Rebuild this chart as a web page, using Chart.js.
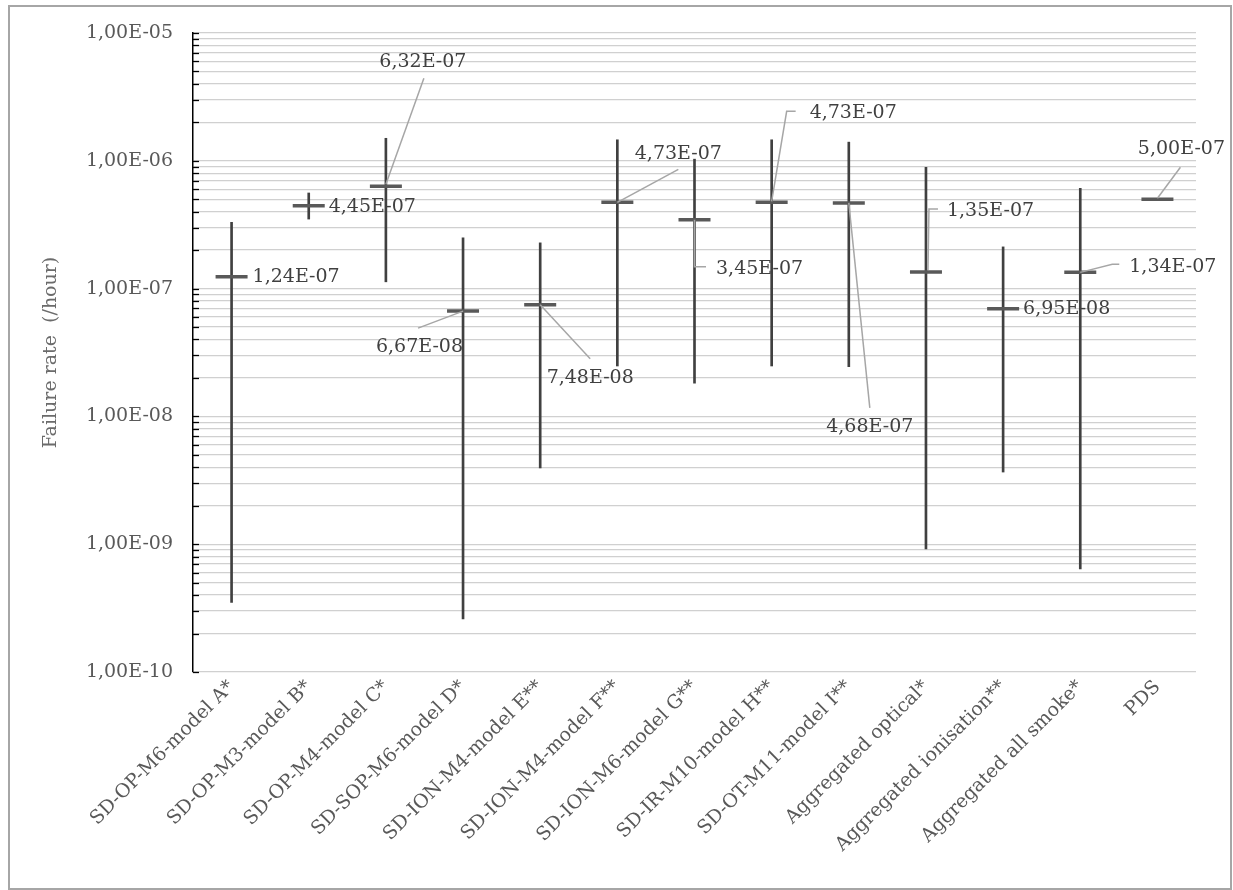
<!DOCTYPE html>
<html>
<head>
<meta charset="utf-8">
<script src="https://cdn.jsdelivr.net/npm/chart.js@4/dist/chart.umd.min.js"></script>
<style>
  html, body { margin: 0; padding: 0; background: #ffffff; }
  #wrap { position: relative; width: 1233px; height: 890px; }
  #wrap canvas { position: absolute; left: 0; top: 0; }
  #frame { position: absolute; left: 8px; top: 5px; width: 1224px; height: 885px;
           border: 2px solid #a6a6a6; box-sizing: border-box; pointer-events: none; }
</style>
</head>
<body>
<div id="wrap">
  <canvas id="chart" width="1233" height="890"></canvas>
  <div id="frame"></div>
</div>
<script>
// Detector types
const categories = [
  'SD-OP-M6-model A*', 'SD-OP-M3-model B*', 'SD-OP-M4-model C*', 'SD-SOP-M6-model D*',
  'SD-ION-M4-model E**', 'SD-ION-M4-model F**', 'SD-ION-M6-model G**', 'SD-IR-M10-model H**',
  'SD-OT-M11-model I**', 'Aggregated optical*', 'Aggregated ionisation**', 'Aggregated all smoke*', 'PDS'
];

// Point estimate of the failure rate (/hour)
const meanRate = [1.24e-7, 4.45e-7, 6.32e-7, 6.67e-8, 7.48e-8, 4.73e-7, 3.45e-7, 4.73e-7, 4.68e-7, 1.35e-7, 6.95e-8, 1.34e-7, 5.00e-7];

// Lower and upper bounds of the interval (no interval for PDS)
const lowerBound = [3.5e-10, 3.5e-7, 1.13e-7, 2.6e-10, 3.95e-9, 2.48e-8, 1.82e-8, 2.48e-8, 2.45e-8, 9.2e-10, 3.67e-9, 6.4e-10, null];
const upperBound = [3.3e-7, 5.6e-7, 1.5e-6, 2.5e-7, 2.28e-7, 1.46e-6, 1.03e-6, 1.46e-6, 1.40e-6, 8.9e-7, 2.12e-7, 6.1e-7, null];

// Labelled decades on the log axis
const decadeTicks = [1e-10, 1e-9, 1e-8, 1e-7, 1e-6, 1e-5];

// Minor steps inside a decade (grid lines and small ticks)
const minorSteps = [1, 2, 3, 4, 5, 6, 7, 8, 9];

// Where each value label sits relative to its marker, with its leader line
const labelPlacement = [
  { align: 'left',   dx: 21,   dy: 0 },
  { align: 'left',   dx: 20,   dy: 1 },
  { align: 'center', dx: 37,   dy: -124, leader: [[0, -2], [38, -108]] },
  { align: 'right',  dx: 0,    dy: 36,   leader: [[0, 0], [-45, 17]] },
  { align: 'center', dx: 50,   dy: 73,   leader: [[0, 0], [50, 54]] },
  { align: 'center', dx: 61,   dy: -48,  leader: [[0, 0], [61, -33]] },
  { align: 'left',   dx: 21.5, dy: 49,   leader: [[0, 0], [0, 47], [11.5, 47]] },
  { align: 'left',   dx: 38,   dy: -89,  leader: [[0, -1], [15, -91], [24, -91]] },
  { align: 'center', dx: 21,   dy: 224,  leader: [[0, 0], [21, 205]] },
  { align: 'left',   dx: 21,   dy: -61,  leader: [[2, -2], [3, -63], [12, -63]] },
  { align: 'left',   dx: 20,   dy: 0 },
  { align: 'left',   dx: 49,   dy: -5,   leader: [[0, 0], [32, -8], [39, -8]] },
  { align: 'center', dx: 24,   dy: -50,  leader: [[0, -1], [23, -32]] }
];

// "1,24E-07" style number format
function sci(v) {
  const [m, e] = v.toExponential(2).split('e');
  const n = parseInt(e, 10);
  const ex = (n < 0 ? '-' : '+') + String(Math.abs(n)).padStart(2, '0');
  return m.replace('.', ',') + 'E' + ex;
}
function isDecade(v) {
  return decadeTicks.some(d => Math.abs(v - d) / d < 1e-6);
}

const gridValues = [];
decadeTicks.forEach((d, i) => {
  if (i === decadeTicks.length - 1) { gridValues.push(d); return; }
  minorSteps.forEach(s => gridValues.push(s * d));
});

const FONT = "'DejaVu Serif', 'Liberation Serif', serif";
const TEXT_SIZE = 19;
Chart.defaults.font.family = FONT;
Chart.defaults.font.size = TEXT_SIZE;
Chart.defaults.color = '#595959';

// Small inward tick marks on the value axis
const innerTicks = {
  id: 'innerTicks',
  afterDatasetsDraw(chart) {
    const y = chart.scales.y;
    const ctx = chart.ctx;
    const left = chart.chartArea.left;
    ctx.save();
    ctx.strokeStyle = '#000000';
    ctx.lineWidth = 1.3;
    y.ticks.forEach(t => {
      const py = Math.round(y.getPixelForValue(t.value)) + 0.5;
      ctx.beginPath();
      ctx.moveTo(left, py);
      ctx.lineTo(left + 6, py);
      ctx.stroke();
    });
    ctx.restore();
  }
};

// Value labels with leader lines
const valueLabels = {
  id: 'valueLabels',
  afterDatasetsDraw(chart) {
    const meta = chart.getDatasetMeta(1);
    const ctx = chart.ctx;
    ctx.save();
    meta.data.forEach((pt, i) => {
      const p = labelPlacement[i];
      const v = chart.data.datasets[1].data[i];
      if (p.leader) {
        ctx.strokeStyle = '#a6a6a6';
        ctx.lineWidth = 1.5;
        ctx.beginPath();
        p.leader.forEach(([lx, ly], k) => {
          if (k === 0) ctx.moveTo(pt.x + lx, pt.y + ly);
          else ctx.lineTo(pt.x + lx, pt.y + ly);
        });
        ctx.stroke();
      }
      ctx.font = TEXT_SIZE + 'px ' + FONT;
      ctx.fillStyle = '#404040';
      ctx.textAlign = p.align;
      ctx.textBaseline = 'middle';
      ctx.fillText(sci(v), pt.x + p.dx, pt.y + p.dy);
    });
    ctx.restore();
  }
};

new Chart(document.getElementById('chart'), {
  type: 'bar',
  data: {
    labels: categories,
    datasets: [
      {
        type: 'bar',
        label: 'Interval',
        data: lowerBound.map((lo, i) => (lo == null ? null : [lo, upperBound[i]])),
        backgroundColor: '#404040',
        borderWidth: 0,
        barThickness: 2,
        order: 2
      },
      {
        type: 'line',
        label: 'Failure rate',
        data: meanRate,
        showLine: false,
        pointStyle: 'line',
        pointRadius: 16,
        pointHoverRadius: 16,
        pointBorderWidth: 3.5,
        pointBorderColor: '#595959',
        pointBackgroundColor: '#595959',
        order: 1
      }
    ]
  },
  options: {
    responsive: false,
    animation: false,
    events: [],
    layout: { padding: { top: 33, right: 37, left: 0, bottom: 0 } },
    plugins: {
      legend: { display: false },
      tooltip: { enabled: false }
    },
    scales: {
      x: {
        offset: true,
        grid: { display: false, drawTicks: false },
        border: { display: false },
        ticks: {
          autoSkip: false,
          minRotation: 45,
          maxRotation: 45,
          padding: 4,
          color: '#595959',
          font: { size: TEXT_SIZE }
        },
        afterFit(scale) { scale.height = 218; }
      },
      y: {
        type: 'logarithmic',
        min: 1e-10,
        max: 1e-5,
        afterBuildTicks(scale) {
          scale.ticks = gridValues.map(v => ({ value: v, major: isDecade(v) }));
        },
        afterFit(scale) { scale.width = 193; },
        grid: { color: '#d0d0d0', lineWidth: 1.3, drawTicks: false },
        border: { display: true, color: '#000000', width: 1.5 },
        ticks: {
          autoSkip: false,
          padding: 20,
          color: '#595959',
          font: { size: TEXT_SIZE },
          callback: v => (isDecade(v) ? sci(v) : '')
        },
        title: {
          display: true,
          text: 'Failure rate  (/hour)',
          color: '#6b6b6b',
          font: { size: 19 },
          padding: { top: 40, bottom: 0 }
        }
      }
    }
  },
  plugins: [innerTicks, valueLabels]
});
</script>
</body>
</html>
